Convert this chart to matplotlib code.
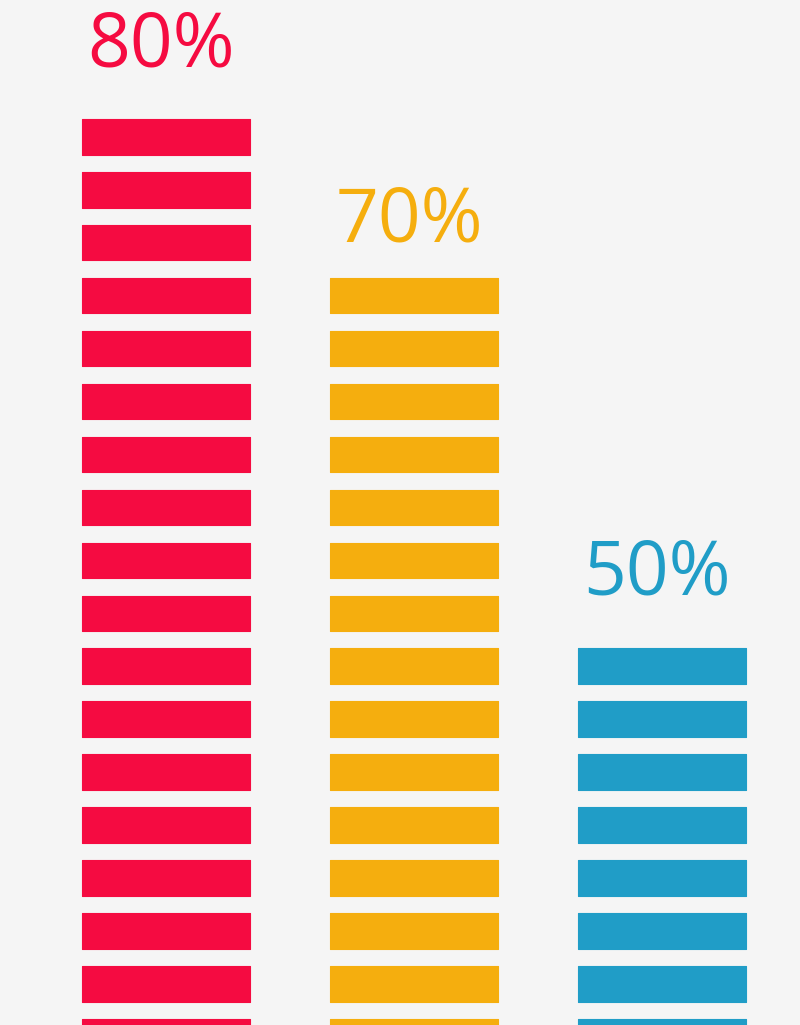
import numpy as np
import matplotlib.pyplot as plt

# values shown above each column and how many stripes each column has
labels = ["80%", "70%", "50%"]
stripes = [18, 15, 8]
colors = ["#f50b41", "#f5ae0e", "#209dc7"]

# extra space between label baseline and column top (pixels)
label_gap = [53, 36, 54]


def main():
    fig = plt.figure(figsize=(8, 10.25), dpi=100)
    fig.patch.set_facecolor("#f5f5f5")
    ax = fig.add_axes([0, 0, 1, 1])
    ax.set_facecolor("#f5f5f5")

    seg_h = 0.67  # stripe height as a fraction of the stripe pitch
    width = 0.675
    ind = np.arange(len(labels))

    for i, n in enumerate(stripes):
        k = np.arange(n)
        ax.bar(np.full(n, ind[i]), seg_h, width, bottom=k,
               color=colors[i], edgecolor=colors[i], linewidth=0.8,
               joinstyle="round")
        ax.annotate(labels[i], (ind[i], n - 1 + seg_h),
                    xytext=(-5, label_gap[i]), textcoords="offset pixels",
                    ha="center", va="baseline", fontsize=54,
                    family="Open Sans", color=colors[i])

    ax.set_xlim(-0.670, 2.556)
    ax.set_ylim(0.557, 19.92)
    ax.axis("off")

    fig.savefig("out.png", dpi=100, facecolor=fig.get_facecolor())


main()
